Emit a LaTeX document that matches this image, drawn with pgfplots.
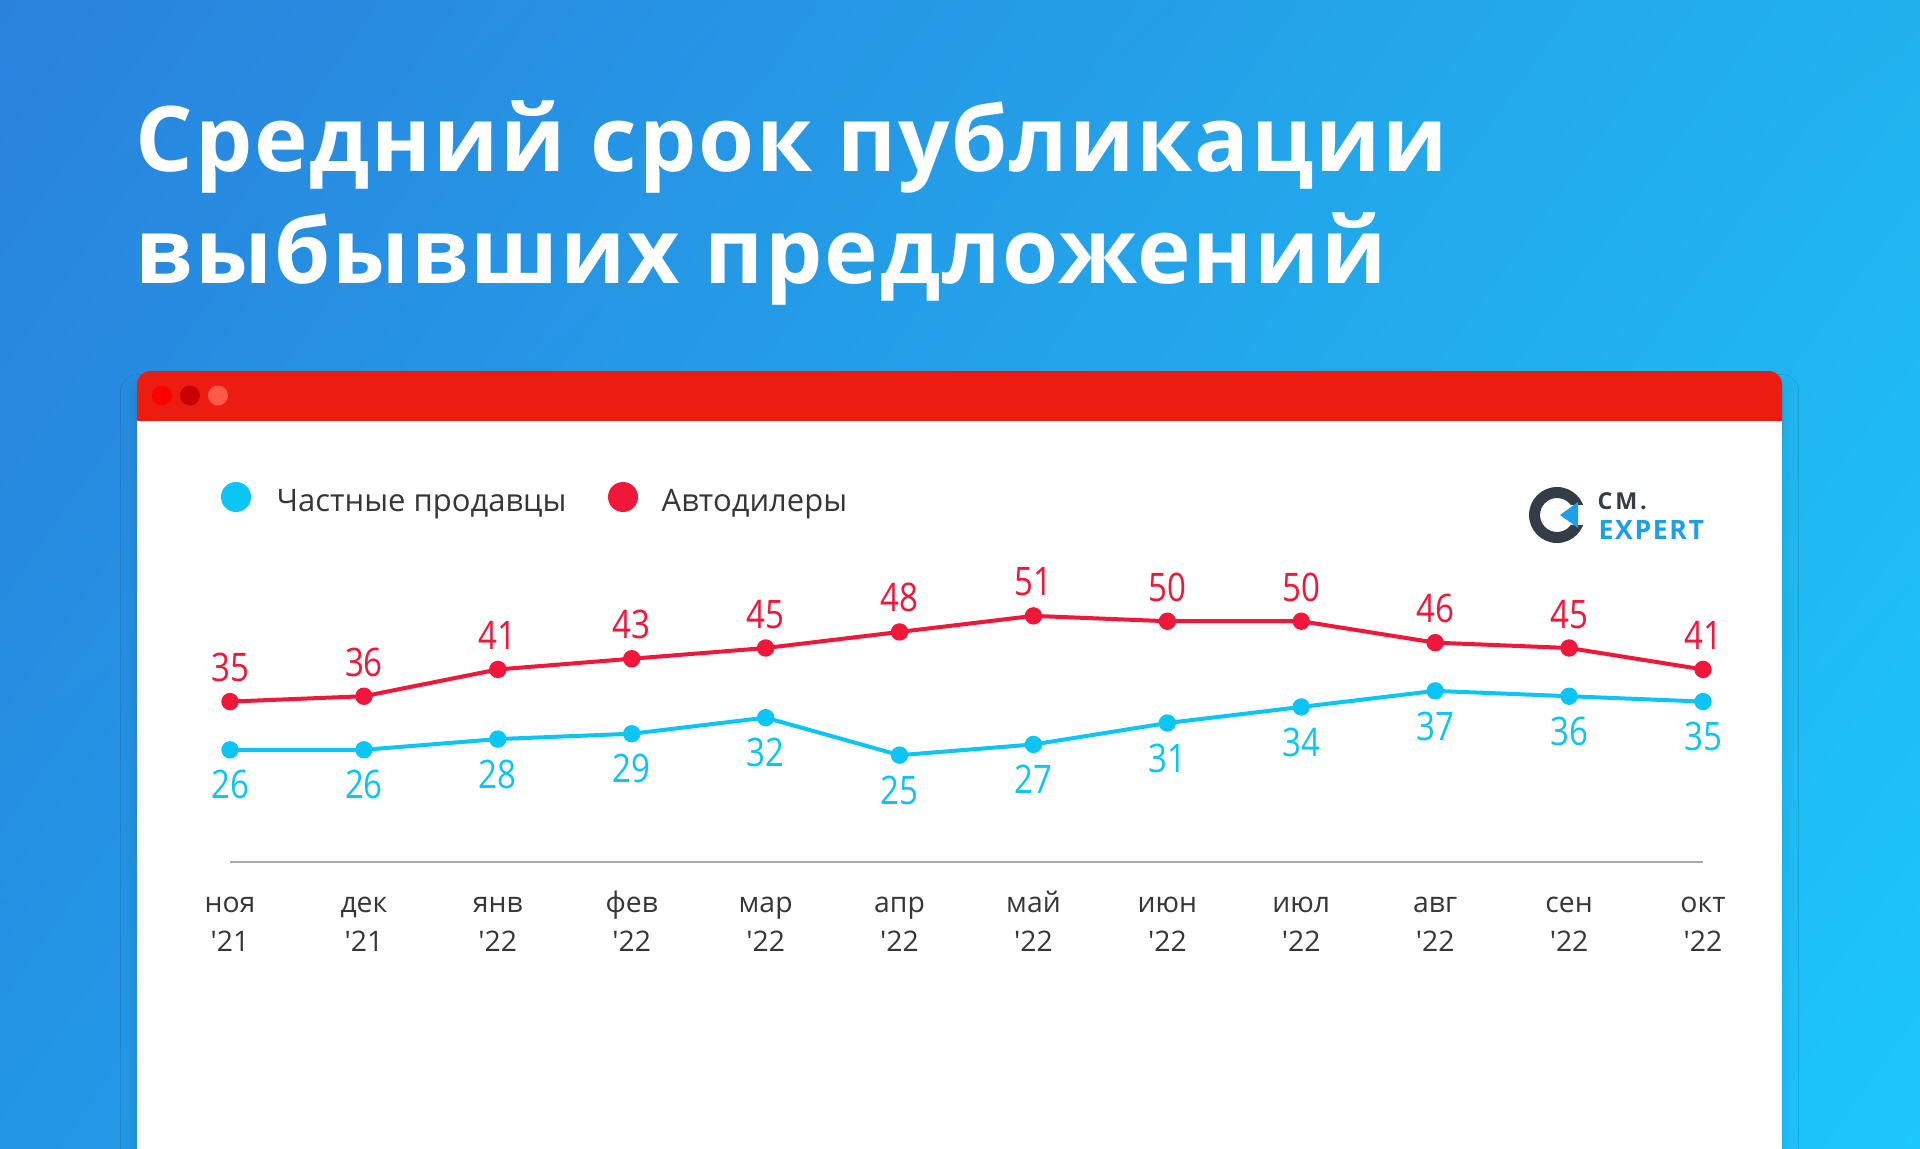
\documentclass[border=0pt]{standalone}
\usepackage{pgfplots}
\pgfplotsset{compat=1.18}
\usepackage{fontspec}
\setmainfont{Open Sans}
\newfontfamily\numfont[FakeStretch=0.84]{Open Sans}
\newfontfamily\tickfont[Ligatures=TeXOff]{Open Sans}
\usetikzlibrary{shadings,shadows.blur}
\definecolor{bgA}{HTML}{2A82DD}
\definecolor{bgB}{HTML}{21B2EE}
\definecolor{bgC}{HTML}{2396E5}
\definecolor{bgD}{HTML}{1CC7FD}
\definecolor{hdr}{HTML}{EC1C10}
\definecolor{dotA}{HTML}{FF0000}
\definecolor{dotB}{HTML}{C80000}
\definecolor{dotC}{HTML}{FF5A4A}
\definecolor{redl}{HTML}{F0173A}
\definecolor{cyanl}{HTML}{0BC6F4}
\definecolor{txt}{HTML}{363636}
\definecolor{axg}{HTML}{A7AAB0}
\definecolor{logod}{HTML}{343D47}
\definecolor{logoc}{HTML}{1E9FEA}
\begin{document}
\begin{tikzpicture}[x=0.3pt,y=0.3pt]
\useasboundingbox (0,0) rectangle (1920,1148);
\clip (0,0) rectangle (1920,1148);
\shade[upper left=bgA, upper right=bgB, lower left=bgC, lower right=bgD] (0,0) rectangle (1920,1148);
% title
\node[anchor=base west, inner sep=0, text=white, font=\fontsize{27.2}{30}\selectfont\bfseries\addfontfeature{LetterSpace=1.9}] at (135,976.3) {Средний срок публикации};
\node[anchor=base west, inner sep=0, text=white, font=\fontsize{27.2}{30}\selectfont\bfseries\addfontfeature{LetterSpace=1.9}] at (135,865) {выбывших предложений};
% panel
\fill[white, blur shadow={shadow xshift=0pt, shadow yshift=-1pt, shadow blur radius=5pt, shadow opacity=12}] (137,-20) rectangle (1782,760);
\fill[hdr, rounded corners=4pt] (137,700) rectangle (1782,777);
\fill[white] (137,-20) rectangle (1782,727);
\fill[dotA] (162,752.5) circle (10);
\fill[dotB] (190,752.5) circle (10);
\fill[dotC] (218,752.5) circle (10);
% legend
\fill[cyanl] (236,651) circle (15);
\node[anchor=base west, inner sep=0, text=txt, font=\fontsize{9.3}{11}\selectfont] at (276,636.3) {Частные продавцы};
\fill[redl] (623,651) circle (15);
\node[anchor=base west, inner sep=0, text=txt, font=\fontsize{9.3}{11}\selectfont] at (661,636.3) {Автодилеры};
% logo
\fill[logod, even odd rule] (1557,633) circle (28) (1557,633) circle (17);
\fill[white] (1560,623) rectangle (1592,643);
\fill[logoc] (1560,633) -- (1578,646) -- (1578,620) -- cycle;
\node[anchor=base west, inner sep=0, text=logod, font=\fontsize{7}{8}\selectfont\bfseries\addfontfeature{LetterSpace=12}] at (1597,638.5) {СМ.};
\node[anchor=base west, inner sep=0, text=logoc, font=\fontsize{8}{9}\selectfont\bfseries\addfontfeature{LetterSpace=6}] at (1598,608.7) {EXPERT};
% chart
\begin{axis}[
  at={(69pt,85.71pt)}, anchor=south west,
  scale only axis, width=441.9pt, height=80.36pt,
  xmin=0, xmax=11, ymin=5, ymax=55,
  clip=false,
  /pgf/number format/assume math mode=true,
  axis x line=bottom, axis y line=none,
  x axis line style={-, draw=axg, line width=0.6pt},
  xtick={0,...,11}, major tick length=0,
  xticklabels={{ноя\\'21},{дек\\'21},{янв\\'22},{фев\\'22},{мар\\'22},{апр\\'22},{май\\'22},{июн\\'22},{июл\\'22},{авг\\'22},{сен\\'22},{окт\\'22}},
  xticklabel style={align=center, anchor=base, yshift=-26.8pt, text=txt, font=\tickfont\fontsize{8.5}{11.6}\selectfont},
  every node near coord/.append style={font=\numfont\fontsize{11.8}{13}\selectfont, anchor=base},
]
\addplot[redl, line width=1.2pt, mark=*, mark size=2pt, mark options={fill=redl, draw=redl},
  nodes near coords, every node near coord/.append style={text=redl, yshift=6pt}]
  coordinates {(0,35) (1,36) (2,41) (3,43) (4,45) (5,48) (6,51) (7,50) (8,50) (9,46) (10,45) (11,41)};
\addplot[cyanl, line width=1.2pt, mark=*, mark size=2pt, mark options={fill=cyanl, draw=cyanl},
  nodes near coords, every node near coord/.append style={text=cyanl, yshift=-14.75pt}]
  coordinates {(0,26) (1,26) (2,28) (3,29) (4,32) (5,25) (6,27) (7,31) (8,34) (9,37) (10,36) (11,35)};
\end{axis}
\end{tikzpicture}
\end{document}
